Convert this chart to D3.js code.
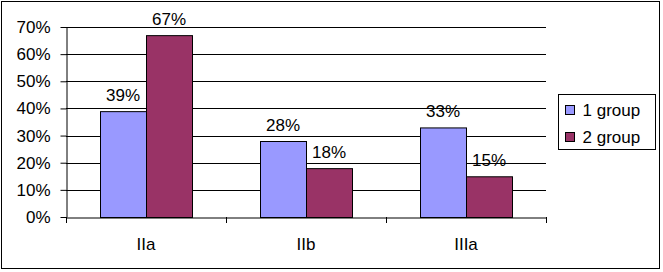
<!DOCTYPE html>
<html>
<head>
<meta charset="utf-8">
<script src="https://cdn.jsdelivr.net/npm/d3@7"></script>
<style>
  body { margin: 0; background: #fff; }
  svg { display: block; font-family: "Liberation Sans", Arial, sans-serif; }
</style>
</head>
<body>
<div id="chart"></div>
<script>
const categories = ['IIa', 'IIb', 'IIIa'];
const seriesNames = ['1 group', '2 group'];
const group1 = [39, 28, 33];
const group2 = [67, 18, 15];
const yTicks = [0, 10, 20, 30, 40, 50, 60, 70];
const colors = ['#9999FF', '#993366'];

const W = 663, H = 272;
const margin = { top: 27, right: 117, bottom: 55, left: 66 };
const width = W - margin.left - margin.right;
const height = H - margin.top - margin.bottom;
const fontSize = '17px';

const svg = d3.select('#chart').append('svg')
  .attr('width', W)
  .attr('height', H);

// outer frame
svg.append('rect')
  .attr('x', 1.5).attr('y', 1.5)
  .attr('width', 658).attr('height', 267)
  .attr('fill', '#fff')
  .attr('stroke', '#000');

const g = svg.append('g')
  .attr('transform', `translate(${margin.left},${margin.top})`);

const x0 = d3.scaleBand().domain(categories).range([0, width]);
const x1 = d3.scaleBand().domain(seriesNames).range([34, x0.bandwidth() - 34]);
const y = d3.scaleLinear().domain([0, 70]).range([height, 0]);

// gridlines
g.selectAll('line.grid')
  .data(yTicks.slice(1))
  .enter().append('line')
  .attr('x1', 0).attr('x2', width)
  .attr('y1', d => Math.round(y(d)) + 0.5)
  .attr('y2', d => Math.round(y(d)) + 0.5)
  .attr('stroke', '#000');

// y axis
const yAxis = g.append('g')
  .attr('transform', 'translate(0.5,0)')
  .call(d3.axisLeft(y).tickValues(yTicks).tickFormat(d => d + '%').tickSize(6).tickSizeOuter(0));
yAxis.select('.domain').attr('stroke', '#000');
yAxis.selectAll('.tick line').attr('stroke', '#000');
yAxis.selectAll('.tick text')
  .attr('x', -16)
  .attr('fill', '#000')
  .style('font-size', fontSize)
  .style('font-family', '"Liberation Sans", Arial, sans-serif');

// bars
const series = [group1, group2];
const rows = categories.map((c, i) => ({
  cat: c,
  vals: seriesNames.map((s, j) => ({ s, v: series[j][i], color: colors[j] }))
}));

const cg = g.selectAll('g.cat')
  .data(rows)
  .enter().append('g')
  .attr('transform', d => `translate(${x0(d.cat)},0)`);

cg.selectAll('rect')
  .data(d => d.vals)
  .enter().append('rect')
  .attr('x', d => x1(d.s) + 0.5)
  .attr('y', d => y(d.v) + 0.5)
  .attr('width', x1.bandwidth())
  .attr('height', d => height - y(d.v))
  .attr('fill', d => d.color)
  .attr('stroke', '#000');

cg.selectAll('text.val')
  .data(d => d.vals)
  .enter().append('text')
  .attr('class', 'val')
  .attr('x', d => x1(d.s) + x1.bandwidth() / 2)
  .attr('y', d => y(d.v) - 10)
  .attr('text-anchor', 'middle')
  .style('font-size', fontSize)
  .text(d => d.v + '%');

// x axis
const xAxis = g.append('g')
  .attr('transform', `translate(0,${height + 0.5})`)
  .call(d3.axisBottom(x0).tickSize(0).tickSizeOuter(0));
xAxis.select('.domain').attr('stroke', '#000');
xAxis.selectAll('.tick text')
  .attr('dy', '0')
  .attr('y', 32)
  .attr('fill', '#000')
  .style('font-size', fontSize)
  .style('font-family', '"Liberation Sans", Arial, sans-serif');

// category separator ticks
g.selectAll('line.sep')
  .data(categories.map(c => x0(c)).concat([width]))
  .enter().append('line')
  .attr('x1', d => Math.round(d) + 0.5).attr('x2', d => Math.round(d) + 0.5)
  .attr('y1', height).attr('y2', height + 6)
  .attr('stroke', '#000');

// legend
const legend = svg.append('g').attr('transform', 'translate(558.5,94.5)');
legend.append('rect')
  .attr('width', 97).attr('height', 55)
  .attr('fill', '#fff').attr('stroke', '#000');
const li = legend.selectAll('g.item')
  .data(seriesNames)
  .enter().append('g')
  .attr('transform', (d, i) => `translate(7,${11 + i * 27})`);
li.append('rect')
  .attr('width', 9).attr('height', 9)
  .attr('fill', (d, i) => colors[i])
  .attr('stroke', '#000');
li.append('text')
  .attr('x', 17).attr('y', 5)
  .attr('dy', '0.35em')
  .style('font-size', fontSize)
  .text(d => d);
</script>
</body>
</html>
